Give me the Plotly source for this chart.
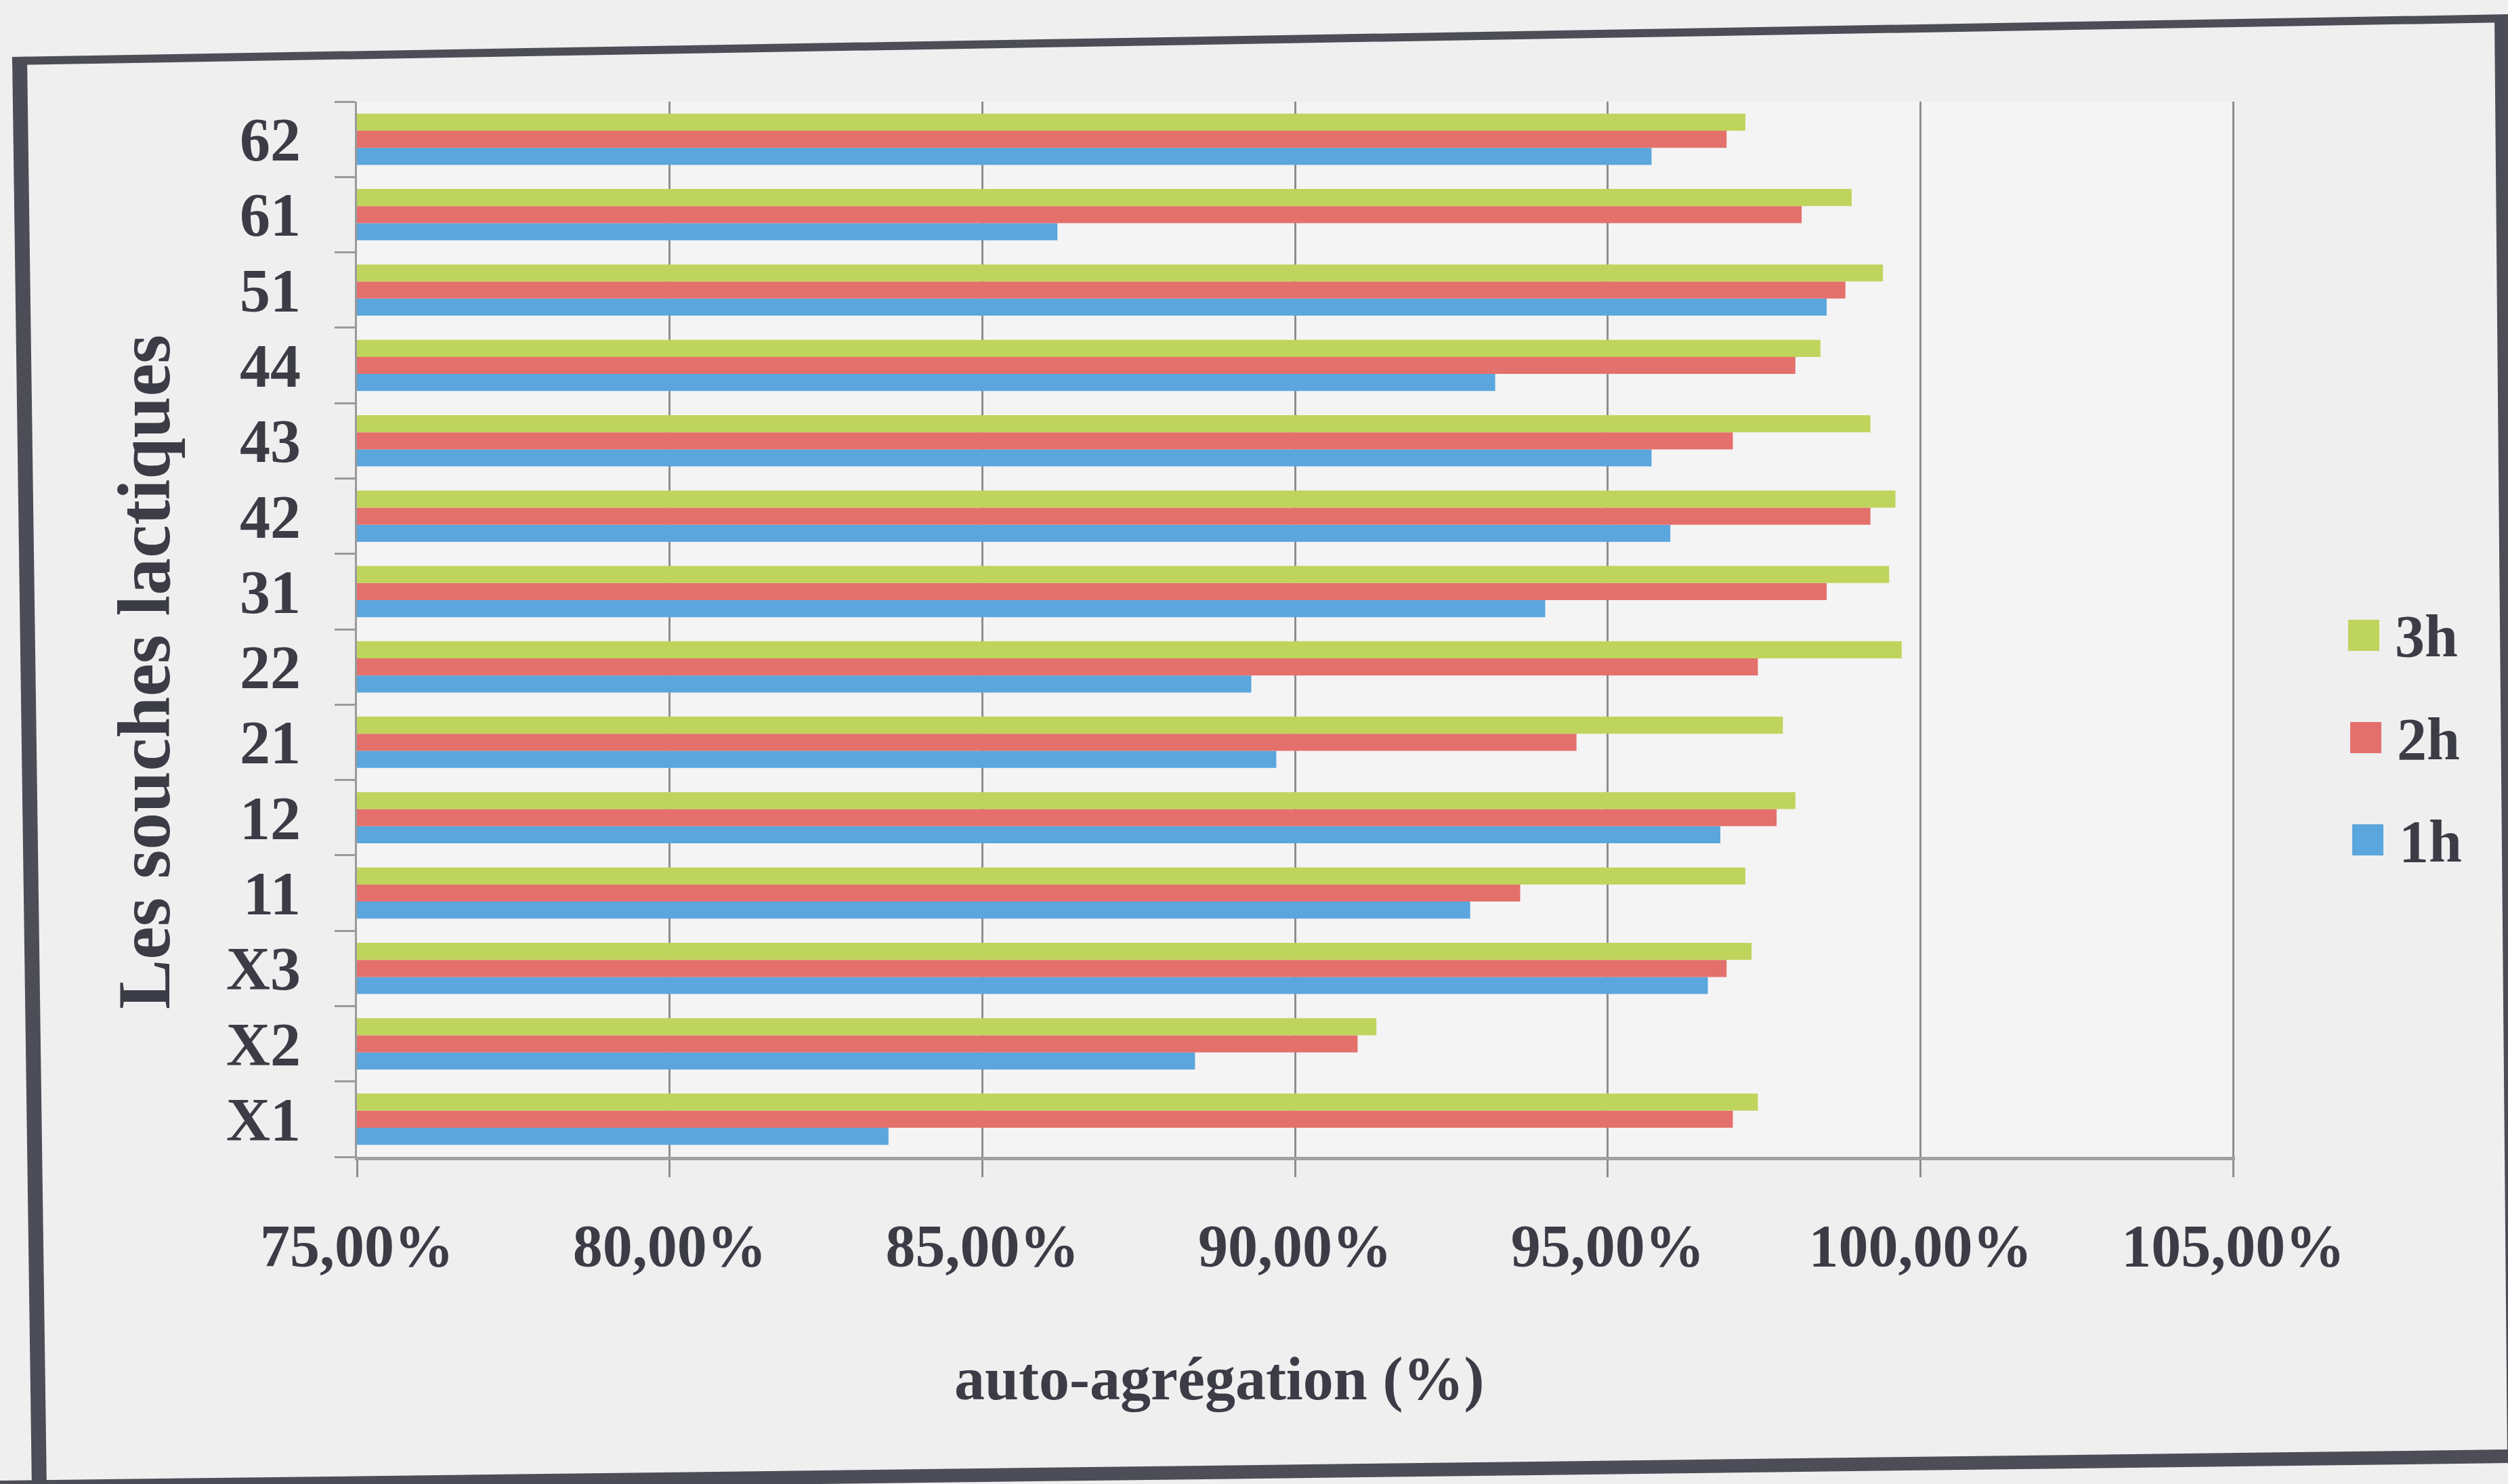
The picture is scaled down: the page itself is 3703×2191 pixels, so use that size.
import plotly.graph_objects as go

# ---------------- data ----------------
strains = ["X1", "X2", "X3", "11", "12", "21", "22", "31", "42", "43", "44", "51", "61", "62"]
auto_1h = [83.5, 88.4, 96.6, 92.8, 96.8, 89.7, 89.3, 94.0, 96.0, 95.7, 93.2, 98.5, 86.2, 95.7]
auto_2h = [97.0, 91.0, 96.9, 93.6, 97.7, 94.5, 97.4, 98.5, 99.2, 97.0, 98.0, 98.8, 98.1, 96.9]
auto_3h = [97.4, 91.3, 97.3, 97.2, 98.0, 97.8, 99.7, 99.5, 99.6, 99.2, 98.4, 99.4, 98.9, 97.2]

series_names = ["1h", "2h", "3h"]
series_values = [auto_1h, auto_2h, auto_3h]
series_colors = ["#5ba6dd", "#e4706c", "#bfd45c"]

x_tickvals = [75, 80, 85, 90, 95, 100, 105]
x_ticktext = ["75,00%", "80,00%", "85,00%", "90,00%", "95,00%", "100,00%", "105,00%"]

x_title = "auto-agrégation (%)"
y_title = "Les souches lactiques"

# ---------------- geometry (pixels) ----------------
W, H = 3703, 2191
L, R, T, B = 527, 3300, 150, 1708


def px(x):
    return (x - L) / (R - L)


def py(y):
    return (B - y) / (B - T)


FONT = "Liberation Serif"
TXT = "#3c3c46"

fig = go.Figure()
for name, vals, col in zip(series_names, series_values, series_colors):
    fig.add_trace(go.Bar(
        y=strains, x=vals, orientation="h", name=name,
        marker=dict(color=col, line=dict(width=0)),
        showlegend=False,
    ))

shapes = []
# outer scanned frame
frame_col = "#4d4d57"
shapes.append(dict(type="line", xref="paper", yref="paper",
                   x0=px(18), y0=py(90), x1=px(3710), y1=py(27),
                   line=dict(color=frame_col, width=12)))
shapes.append(dict(type="line", xref="paper", yref="paper",
                   x0=px(29), y0=py(84), x1=px(58), y1=py(2200),
                   line=dict(color=frame_col, width=22)))
shapes.append(dict(type="line", xref="paper", yref="paper",
                   x0=px(3693), y0=py(24), x1=px(3712), y1=py(2150),
                   line=dict(color=frame_col, width=20)))
shapes.append(dict(type="line", xref="paper", yref="paper",
                   x0=px(0), y0=py(2196), x1=px(3710), y1=py(2150),
                   line=dict(color=frame_col, width=20)))

# manual legend (3h on top)
legend_y = {"3h": 938, "2h": 1089, "1h": 1240}
legend_x = {"3h": 3490, "2h": 3493, "1h": 3496}
annotations = []
sq = 23
for name, col in zip(series_names, series_colors):
    cx, cy = legend_x[name], legend_y[name]
    shapes.append(dict(type="rect", xref="paper", yref="paper",
                       x0=px(cx - sq), x1=px(cx + sq), y0=py(cy + sq), y1=py(cy - sq),
                       fillcolor=col, line=dict(width=0)))
    annotations.append(dict(xref="paper", yref="paper", x=px(cx + 44), y=py(cy + 2),
                            xanchor="left", yanchor="middle", showarrow=False,
                            text=name, font=dict(family=FONT, size=88, color=TXT, weight="bold")))

annotations.append(dict(xref="paper", yref="paper", x=px(1800), y=py(2036),
                        xanchor="center", yanchor="middle", showarrow=False,
                        text=x_title, font=dict(family=FONT, size=90, color=TXT, weight="bold")))
annotations.append(dict(xref="paper", yref="paper", x=px(213), y=py(992),
                        xanchor="center", yanchor="middle", showarrow=False, textangle=-90,
                        text=y_title, font=dict(family=FONT, size=110, color=TXT, weight="bold")))

fig.update_layout(
    width=W, height=H,
    margin=dict(l=L, r=W - R, t=T, b=H - B, pad=0, autoexpand=False),
    paper_bgcolor="#efeff0",
    plot_bgcolor="#f4f4f4",
    barmode="group", bargap=0.32, bargroupgap=0,
    showlegend=False,
    shapes=shapes,
    annotations=annotations,
    xaxis=dict(
        range=[75, 105.03], tickvals=x_tickvals, ticktext=x_ticktext,
        showgrid=True, gridcolor="#8e8e8e", gridwidth=2.5, zeroline=False,
        ticks="outside", ticklen=25, tickwidth=3, tickcolor="#8e8e8e",
        showline=True, linecolor="#a29ea2", linewidth=5,
        tickfont=dict(family=FONT, size=88, color=TXT, weight="bold"),
        ticklabelstandoff=25,
    ),
    yaxis=dict(
        type="category", categoryorder="array", categoryarray=strains,
        tickmode="array", tickvals=strains, ticktext=strains,
        showgrid=False, zeroline=False,
        ticks="outside", tickson="boundaries", ticklen=30, tickwidth=3, tickcolor="#9a9a9a",
        showline=True, linecolor="#9a9a9a", linewidth=3,
        tickfont=dict(family=FONT, size=90, color=TXT, weight="bold"),
        ticklabelstandoff=62,
    ),
)

fig.write_html("out.html")
